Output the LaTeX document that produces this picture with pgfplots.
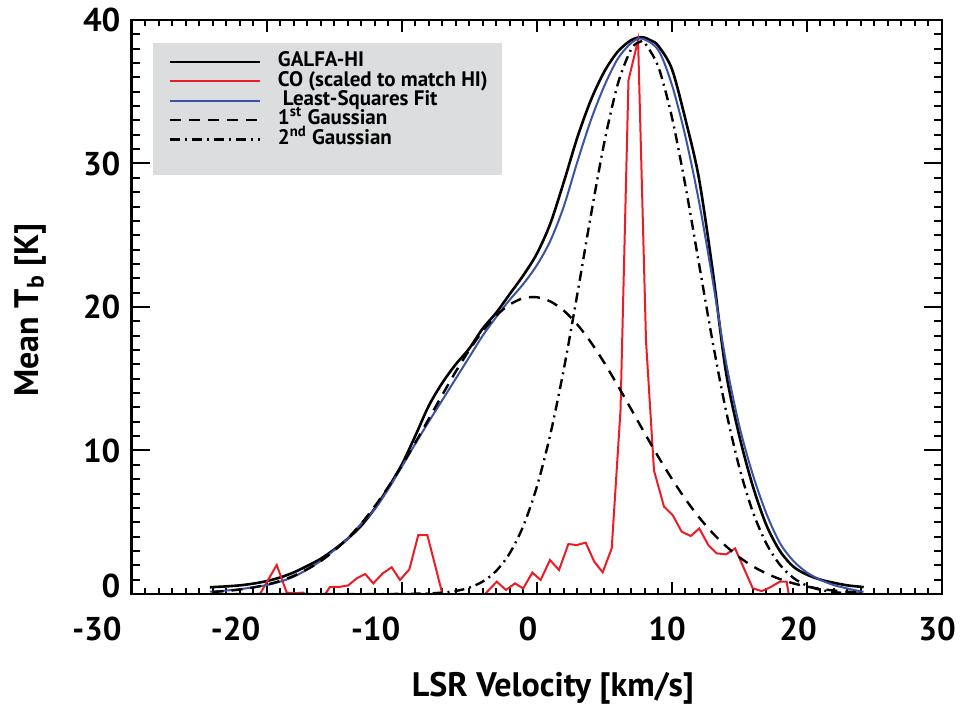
\documentclass[border=0pt]{standalone}
\usepackage{pgfplots}
\pgfplotsset{compat=1.18}
\usepackage{fontspec}
\setmainfont{PT Sans}
\definecolor{cored}{RGB}{237,28,36}
\definecolor{fitblue}{RGB}{58,83,164}
\definecolor{leggray}{RGB}{220,221,222}
\newcommand\sh[2]{\hspace*{#1}#2\hspace*{-#1}}

\pgfplotstableread{
x y
-24.2 0.47
-24 0.48
-23 0.53
-22 0.60
-21 0.72
-20 0.90
-19 1.15
-18 1.50
-17 1.95
-16 2.45
-15 3.10
-14 3.85
-13 4.75
-12 5.95
-11 7.40
-10 9.00
-9 11.0
-8 13.1
-7 14.7
-6 16.0
-5 17.1
-4 18.5
-3 19.6
-2 20.9
-1 22.2
0 23.7
1 25.8
2 28.7
3 31.8
4 34.4
5 36.4
6 37.8
7 38.6
7.8 38.8
8.5 38.55
9 38.2
10 36.6
11 33.1
12 29.0
13 22.7
14 15.5
15 11.0
16 7.5
17 4.8
18 3.0
19 1.9
20 1.35
21 1.0
22 0.78
23 0.6
24 0.5
24.2 0.47
}\galfa

\pgfplotstableread{
x y
-20.7 -0.6
-20.49 0.0
-19.25 2.02
-18.51 0.1
-17.9 0.05
-17.28 0.1
-16.6 -0.6
-15.95 -0.4
-15.3 0.5
-14.57 0.5
-13.95 0.6
-13.33 1.09
-12.7 1.39
-12.1 0.74
-11.4 1.44
-10.74 1.86
-10.12 0.98
-9.43 1.72
-8.77 4.11
-8.1 4.11
-7.53 2.02
-7.0 0.05
-6.4 -0.6
-4.4 -0.6
-3.83 0.0
-2.96 0.86
-2.28 0.28
-1.61 0.74
-1.0 0.39
-0.33 1.49
0.29 0.98
0.98 2.37
1.65 1.67
2.34 3.48
2.96 3.41
3.62 3.58
4.26 2.25
4.88 1.51
5.55 3.18
6.2 12.8
6.79 35.8
7.5 38.6
8.09 17.6
8.68 8.6
9.42 6.09
10.06 5.5
10.73 4.34
11.4 4.04
12.03 4.57
12.7 3.41
13.32 2.83
14.01 2.76
14.68 3.18
15.33 1.8
15.99 0.4
16.65 0.2
17.27 0.46
18.0 0.86
18.5 0.86
18.75 -0.6
}\co

\pgfplotstableread{
x y
-24.2 0.16
-24 0.17
-23 0.24
-22 0.33
-21 0.47
-20 0.62
-19 0.86
-18 1.2
-17 1.7
-16 2.3
-15 3.05
-14 3.85
-13 4.9
-12 5.9
-11 7.3
-10 8.85
-9 10.45
-8 12.0
-7 13.5
-6 15.0
-5 16.5
-4 18.0
-3 19.3
-2 20.5
-1 21.6
0 22.9
1 24.6
2 27.0
3 30.1
4 33.0
5 35.4
6 37.3
7 38.4
7.8 38.7
9 37.9
10 35.5
11 31.9
12 27.4
13 22.0
14 16.2
15 11.7
16 8.3
17 5.6
18 3.55
19 2.3
20 1.5
21 0.98
22 0.62
23 0.38
24 0.18
24.2 0.16
}\fit

\pgfplotstableread{
x y
-24 0.14
-23 0.21
-22 0.31
-21 0.45
-20 0.65
-19 0.91
-18 1.26
-17 1.72
-16 2.29
-15 3.01
-14 3.87
-13 4.90
-12 6.10
-11 7.45
-10 8.94
-9 10.53
-8 12.19
-7 13.86
-6 15.49
-5 16.99
-4 18.32
-3 19.40
-2 20.17
-1 20.61
0 20.68
1 20.39
2 19.75
3 18.78
4 17.55
5 16.11
6 14.52
7 12.86
8 11.19
9 9.56
10 8.03
11 6.62
12 5.36
13 4.27
14 3.34
15 2.56
16 1.93
17 1.43
18 1.04
19 0.74
20 0.52
21 0.36
22 0.24
23 0.16
24 0.11
}\gone

\pgfplotstableread{
x y
-24 0.0
-12 0.0
-10 0.01
-8 0.04
-7 0.10
-6 0.21
-5 0.44
-4 0.87
-3 1.61
-2 2.84
-1 4.73
0 7.45
1 11.10
2 15.65
3 20.88
4 26.35
5 31.46
6 35.54
7 37.98
7.7 38.5
8 38.40
9 36.74
10 33.25
11 28.48
12 23.07
13 17.68
14 12.82
15 8.80
16 5.71
17 3.51
18 2.04
19 1.12
20 0.58
21 0.29
22 0.13
23 0.06
24 0.02
}\gtwo

\begin{document}
\begin{tikzpicture}
\path[use as bounding box] (0,0) rectangle (482pt,353pt);
\pgfplotsset{
  commonax/.style={
    scale only axis, width=405.25pt, height=287pt,
    at={(65.75pt,56pt)}, anchor=south west,
    xmin=-30, xmax=30, ymin=0, ymax=40,
    axis line style={line width=1.3pt},
    every tick/.style={black, line width=1.0pt},
    font=\bfseries,
  }
}
\begin{axis}[commonax,
  xtick={-30,-20,...,30},
  xticklabels={\sh{-17.25pt}{-30},\sh{-15.5pt}{-20},\sh{-13pt}{-10},\sh{-4.35pt}{0},\sh{-2.4pt}{10},\sh{-4.45pt}{20},\sh{-2.5pt}{30}},
  minor x tick num=9, major tick length=6pt, minor tick length=3pt,
  ytick=\empty,
  xticklabel style={font=\fontsize{16.5}{16.5}\selectfont\bfseries, yshift=-8pt},
  xlabel={LSR Velocity [km/s]},
  xlabel style={at={(axis description cs:0.52,-0.164)}, anchor=center, font=\fontsize{17}{17}\selectfont\bfseries},
  ylabel={Mean T\textsubscript{b} [K]},
  ylabel style={at={(axis description cs:-0.1246,0.495)}, anchor=center, font=\fontsize{17}{17}\selectfont\bfseries},
  legend style={at={(axis description cs:0.045,0.944)}, anchor=north west, draw=none, fill=none,
    font=\fontsize{10.5}{10.5}\selectfont\bfseries, row sep=0pt, inner sep=0pt,
    nodes={inner sep=0pt, text height=7.2pt, text depth=2.45pt},
    /tikz/every odd column/.append style={column sep=8.5pt}},
  legend cell align=left,
  legend image code/.code={\draw[#1] (0pt,0pt) -- (45pt,0pt);},
]
\fill[leggray] (axis description cs:0.0265,0.96) rectangle (axis description cs:0.457,0.73);
\addplot[black, line width=1.3pt, smooth, tension=0.5] table {\galfa};
\addlegendentry{GALFA-HI}
\addplot[cored, line width=1pt] table {\co};
\addlegendentry{CO (scaled to match HI)}
\addplot[fitblue, line width=1pt, smooth, tension=0.5] table {\fit};
\addlegendentry{\hspace{2.5pt}Least-Squares Fit}
\addplot[black, line width=1.2pt, smooth, tension=0.5, dash pattern=on 5.5pt off 4pt] table {\gone};
\addlegendentry{1\textsuperscript{st} Gaussian}
\addplot[black, line width=1.2pt, smooth, tension=0.5, dash pattern=on 5pt off 2.5pt on 1pt off 2.5pt] table {\gtwo};
\addlegendentry{2\textsuperscript{nd} Gaussian}
\end{axis}
\begin{axis}[commonax,
  xtick=\empty,
  ytick={0,10,...,40}, yticklabels={\raisebox{4pt}[\height][\depth]{0},10,20,30,40},
  minor y tick num=9, major tick length=9pt, minor tick length=4pt,
  yticklabel style={font=\fontsize{16.5}{16.5}\selectfont\bfseries, xshift=-2pt},
]
\end{axis}
\end{tikzpicture}
\end{document}
